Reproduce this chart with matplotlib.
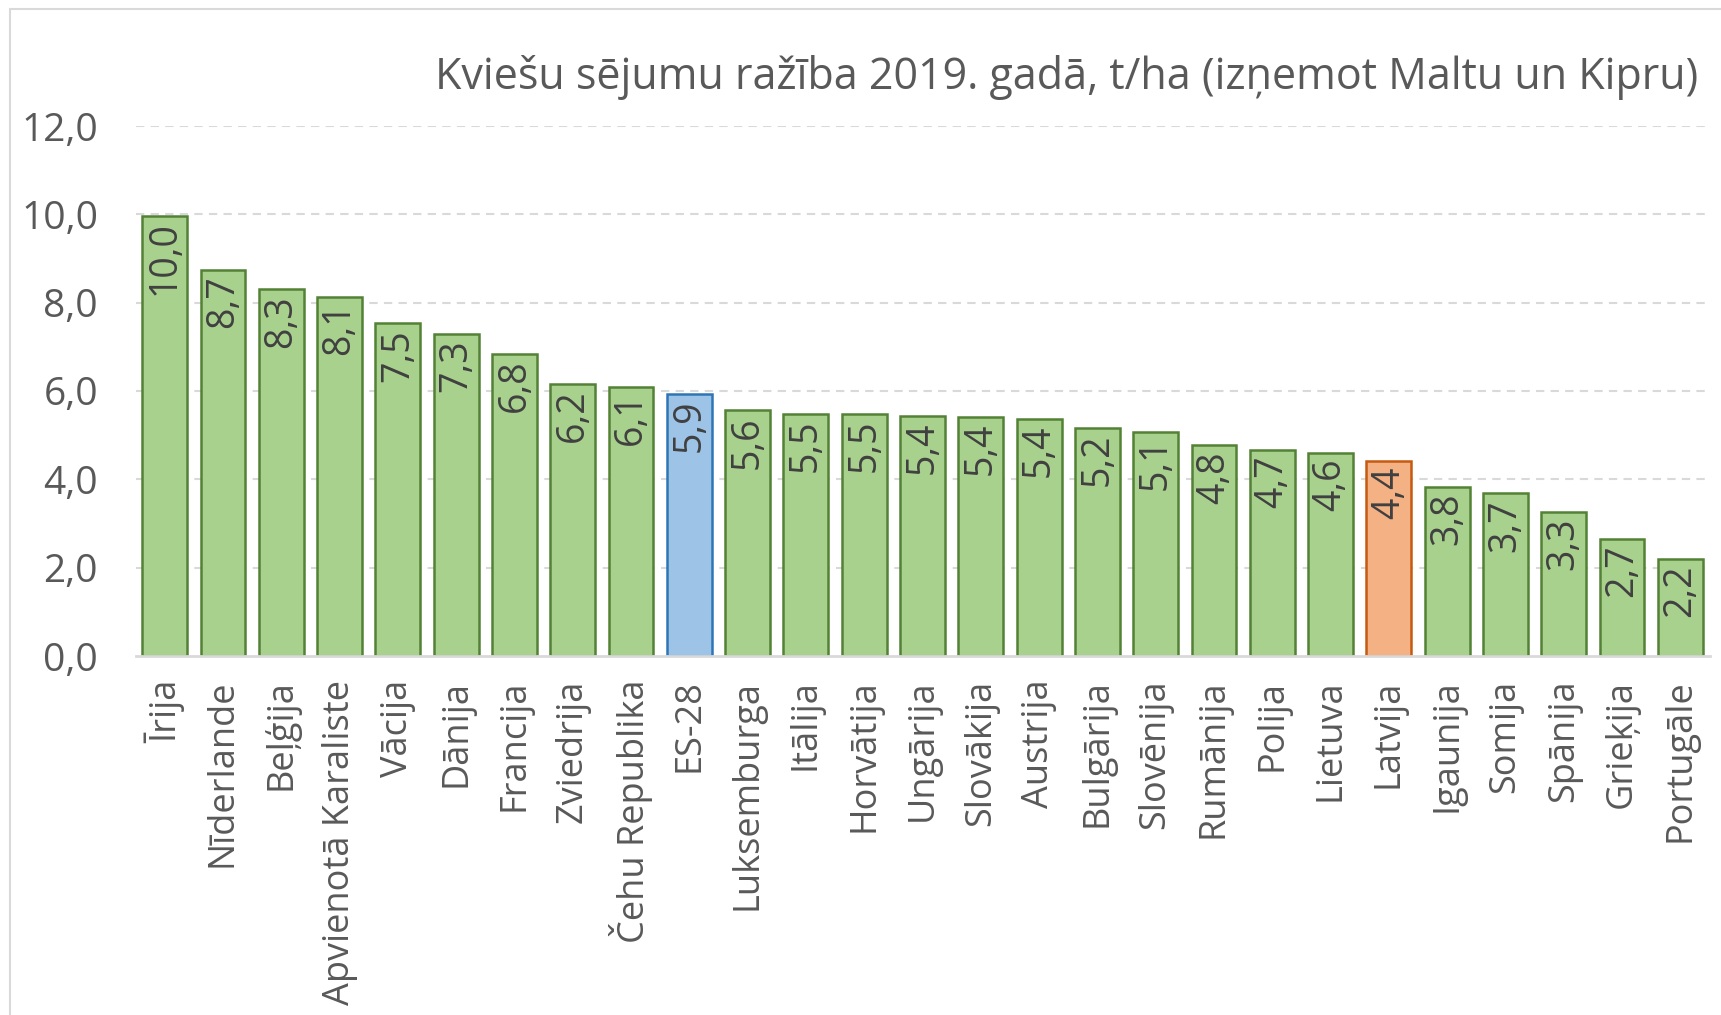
import matplotlib
matplotlib.use("Agg")
import matplotlib.pyplot as plt
from matplotlib.patches import Rectangle

categories = ["Īrija", "Nīderlande", "Beļģija", "Apvienotā Karaliste", "Vācija", "Dānija",
              "Francija", "Zviedrija", "Čehu Republika", "ES-28", "Luksemburga", "Itālija",
              "Horvātija", "Ungārija", "Slovākija", "Austrija", "Bulgārija", "Slovēnija",
              "Rumānija", "Polija", "Lietuva", "Latvija", "Igaunija", "Somija", "Spānija",
              "Grieķija", "Portugāle"]
values = [9.97, 8.74, 8.30, 8.13, 7.53, 7.30, 6.84, 6.16, 6.09, 5.93, 5.56, 5.47,
          5.47, 5.44, 5.42, 5.37, 5.17, 5.07, 4.77, 4.67, 4.60, 4.42, 3.83, 3.68,
          3.26, 2.66, 2.19]
yticks = [0, 2, 4, 6, 8, 10, 12]
title = "Kviešu sējumu ražība 2019. gadā, t/ha (izņemot Maltu un Kipru)"

FONT = "Open Sans"
plt.rcParams['font.family'] = [FONT, 'DejaVu Sans']

W, H = 1721, 1015
fig = plt.figure(figsize=(W / 100, H / 100), dpi=100)
fig.patches.append(Rectangle((10 / W, -0.02), 1.05, 1 - 9 / H + 0.02, transform=fig.transFigure,
                             fill=False, edgecolor="#D9D9D9", linewidth=1.5))

left, right = 135.5 / W, 1709.5 / W
bottom, top = 1 - 656 / H, 1 - 126 / H
ax = fig.add_axes([left, bottom, right - left, top - bottom])

fills, edges = [], []
for c in categories:
    if c == "ES-28":
        fills.append("#9DC3E6"); edges.append("#2E75B6")
    elif c == "Latvija":
        fills.append("#F4B183"); edges.append("#C55A11")
    else:
        fills.append("#A9D18E"); edges.append("#538135")

x = list(range(len(categories)))
ax.bar(x, values, width=0.77, color=fills, edgecolor=edges, linewidth=1.8, zorder=3)

for xi, v in zip(x, values):
    ax.annotate(f"{v:.1f}".replace(".", ","), xy=(xi, v), xytext=(0, -4),
                textcoords="offset points", rotation=90, ha="center", va="top",
                fontsize=27, color="#404040", zorder=4)

ax.set_xlim(-0.5, len(categories) - 0.5)
ax.set_ylim(0, 12)
ax.set_yticks(yticks)
ax.set_yticklabels([f"{t:.1f}".replace(".", ",") for t in yticks], fontsize=28, color="#595959")
ax.set_xticks(x)
ax.set_xticklabels(categories, rotation=90, fontsize=26, color="#595959", va="top", ha="center")
ax.tick_params(axis="y", length=0, pad=27)
ax.tick_params(axis="x", length=0, pad=17)

for t in yticks[1:]:
    ax.axhline(t, color="#D9D9D9", linewidth=1.5, linestyle=(0, (4, 3)), zorder=1)
for s in ["top", "right", "left"]:
    ax.spines[s].set_visible(False)
ax.spines["bottom"].set_color("#D9D9D9")
ax.spines["bottom"].set_linewidth(2)
ax.spines["bottom"].set_zorder(5)

fig.text(1698 / W, 1 - 77 / H, title, ha="right", va="center", fontsize=31, color="#595959")

fig.savefig("out.png", dpi=100)
